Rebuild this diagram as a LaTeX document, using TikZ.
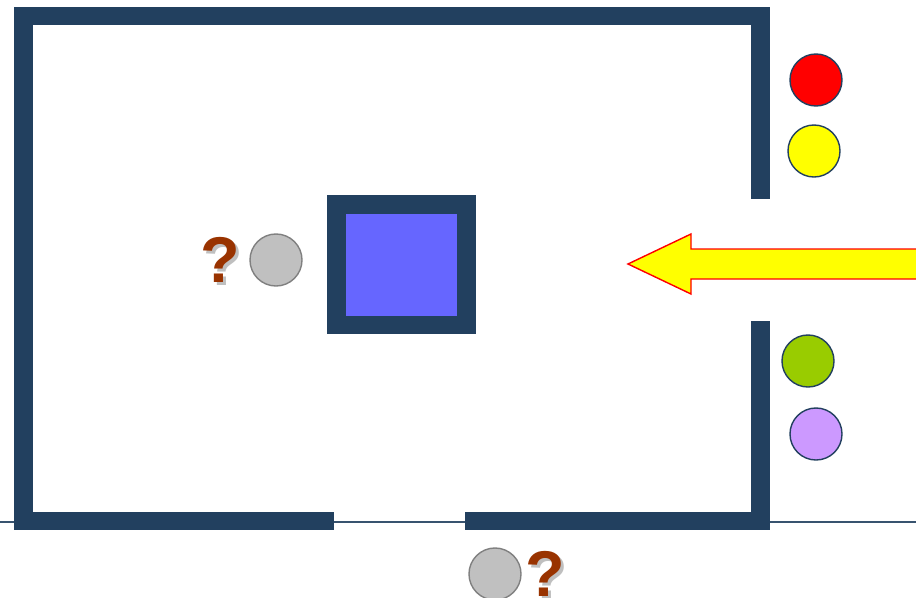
\documentclass[tikz,border=0pt]{standalone}
\usepackage{fontspec}
\setmainfont{Liberation Sans}
\usetikzlibrary{positioning}
\usepackage{xcolor}
\definecolor{wallblue}{HTML}{22405F}
\definecolor{boxblue}{HTML}{6666FF}
\definecolor{ballgray}{HTML}{C0C0C0}
\definecolor{rimgray}{HTML}{808080}
\definecolor{qbrown}{HTML}{993300}
\definecolor{lightgreen}{HTML}{99CC00}
\definecolor{lilac}{HTML}{CC99FF}
\definecolor{pureyellow}{HTML}{FFFF00}
\definecolor{purered}{HTML}{FF0000}

\begin{document}
\begin{tikzpicture}[x=0.025cm, y=-0.025cm,
    ball/.style={draw=wallblue, circle, line width=1pt, minimum size=1.3cm, inner sep=0pt},
    grayball/.style={draw=rimgray, fill=ballgray, circle, line width=1pt, minimum size=1.3cm, inner sep=0pt},
    qmark/.style={text=qbrown, inner sep=0pt, font=\fontsize{46}{50}\selectfont\bfseries},
    qshadow/.style={text=black!25, inner sep=0pt, font=\fontsize{46}{50}\selectfont\bfseries, xshift=0.075cm, yshift=-0.075cm}]
            \useasboundingbox (0,0) rectangle (916,598);
            % floor line
            \draw[wallblue!90, line width=1.4pt] (0,522) -- (916,522);
            
            % walls of the room
            \fill[wallblue] (14,7) rectangle (770,25);
            \fill[wallblue] (14,7) rectangle (33,530);
            \fill[wallblue] (751,7) rectangle (770,199);
            \fill[wallblue] (751,321) rectangle (770,530);
            \fill[wallblue] (14,512) rectangle (334,530);
            \fill[wallblue] (465,512) rectangle (770,530);
            
            % the box in the middle
            \fill[wallblue] (327,195) rectangle (476,334);
            \fill[boxblue] (346,214) rectangle (457,316);
            
            % balls outside the door
            \node[ball, fill=purered] (red) at (816,80) {};
            \node[ball, fill=pureyellow] (yellow) at (814,151) {};
            \node[ball, fill=lightgreen] (green) at (808,361) {};
            \node[ball, fill=lilac] (purple) at (816,434) {};
            
            % unknown balls
            \node[grayball] (inside) at (276,260) {};
            \node[grayball] (below) at (495,574) {};
            \node[qshadow, left=0.22cm of inside] {?};
            \node[qmark, left=0.22cm of inside] (q1) {?};
            \node[qshadow, right=0.08cm of below] {?};
            \node[qmark, right=0.08cm of below] (q2) {?};
            
            % incoming arrow
            \draw[purered, fill=pureyellow, line width=1pt] (925,249) -- (691,249) -- (691,234) -- (628,264)
                -- (691,294) -- (691,279) -- (925,279) -- cycle;
        \end{tikzpicture}
\end{document}
